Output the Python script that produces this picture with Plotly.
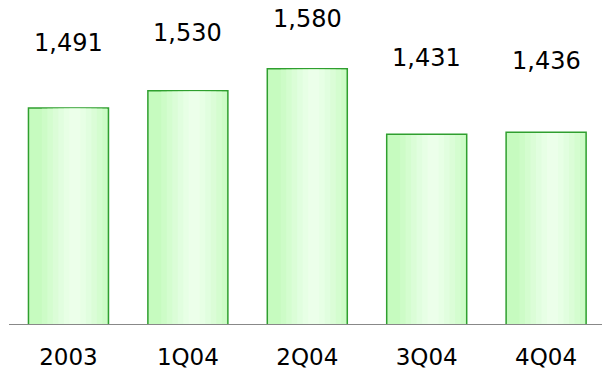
import plotly.graph_objects as go

# Quarterly figures
categories = ["2003", "1Q04", "2Q04", "3Q04", "4Q04"]
values = [1491, 1530, 1580, 1431, 1436]
value_labels = ["1,491", "1,530", "1,580", "1,431", "1,436"]

# vertical gap (px) between the top of each bar and its value label
label_gaps = [65, 58, 50, 76, 71]

BAR_W = 0.67
FONT = "DejaVu Sans, Arial, sans-serif"

fig = go.Figure()

# base bar with outline
fig.add_trace(go.Bar(
    x=list(range(len(categories))), y=values, width=BAR_W,
    marker=dict(color="#c6fbbf", line=dict(color="#2f9f2f", width=1.5)),
    hoverinfo="skip", showlegend=False,
))

# narrowing overlays build a soft horizontal gradient (lightest right of centre)
shades = ["#cdfcc7", "#d4fdcf", "#dbfdd7", "#e1fedf", "#e7ffe5", "#ecffea"]
peak = 0.58  # relative position of the highlight across the bar
inner = BAR_W - 0.025
for i, col in enumerate(shades):
    frac = 1 - (i + 1) / (len(shades) + 1)
    w = inner * frac
    centre = -BAR_W / 2 + BAR_W * peak
    left = centre - w / 2
    left = max(left, -inner / 2)
    right = min(left + w, inner / 2)
    fig.add_trace(go.Bar(
        x=list(range(len(categories))), y=[v - 2 for v in values],
        width=right - left, offset=left,
        marker=dict(color=col, line=dict(width=0)),
        hoverinfo="skip", showlegend=False,
    ))

for i, (v, txt, gap) in enumerate(zip(values, value_labels, label_gaps)):
    fig.add_annotation(
        x=i, y=v, text=txt, showarrow=False, yanchor="middle",
        yshift=gap, font=dict(family=FONT, size=24, color="#000000"),
    )

fig.update_layout(
    width=602, height=371,
    margin=dict(l=9, r=0, t=0, b=47),
    barmode="overlay",
    plot_bgcolor="white", paper_bgcolor="white",
    xaxis=dict(
        range=[-0.498, 4.468], automargin=False,
        tickvals=list(range(len(categories))), ticktext=categories,
        showgrid=False, zeroline=False,
        showline=True, linecolor="#888888", linewidth=1,
        ticks="", ticklabelstandoff=12,
        tickfont=dict(family=FONT, size=23, color="#000000"),
    ),
    yaxis=dict(range=[1000, 1736.4], visible=False, showgrid=False),
)

fig.write_html("out.html")
